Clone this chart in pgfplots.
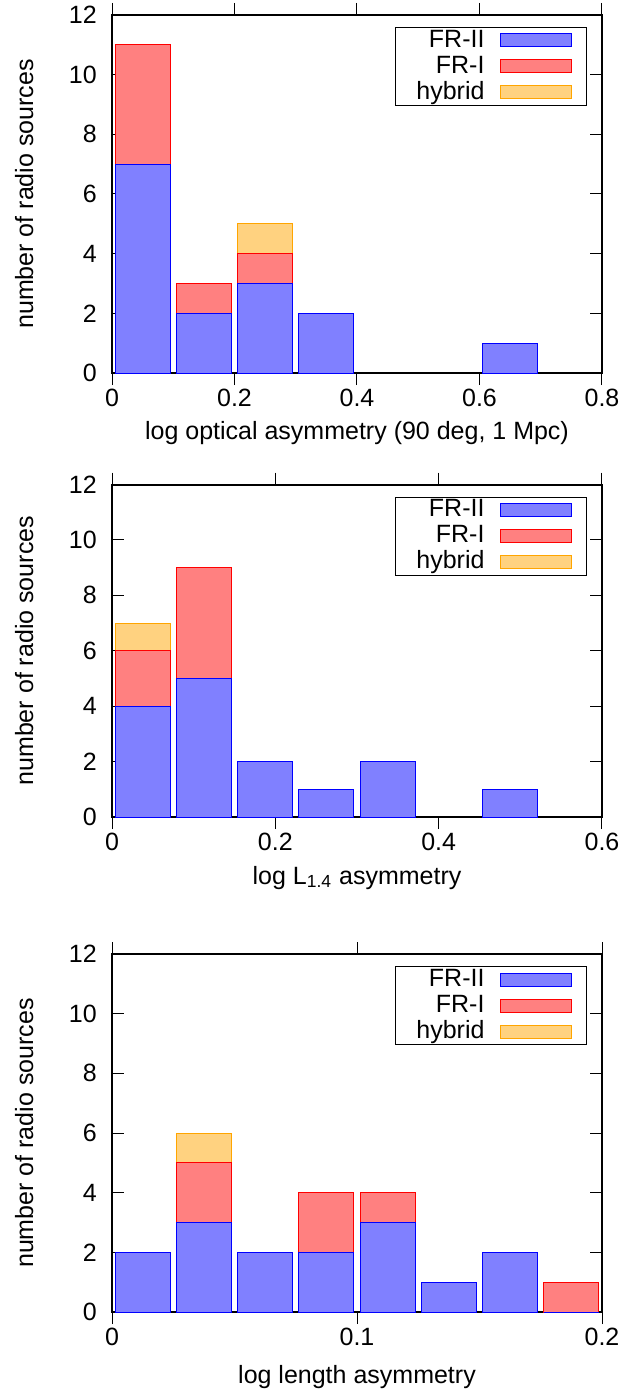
\documentclass[border=0pt]{standalone}
\usepackage{fontspec}
\setmainfont{Liberation Sans}
\usepackage{pgfplots}
\pgfplotsset{compat=1.18}
\usepackage{pgfplotstable}

\definecolor{c2fill}{RGB}{128,128,255}
\definecolor{c1fill}{RGB}{255,128,128}
\definecolor{chfill}{RGB}{255,210,128}
\definecolor{horange}{RGB}{255,165,0}

% x = bin centre, t2 = FR-II, t1 = FR-II+FR-I, th = FR-II+FR-I+hybrid
\pgfplotstableread{
x t2 t1 th
0.05 7 11 11
0.15 2 3 3
0.25 3 4 5
0.35 2 2 2
0.65 1 1 1
}\dataA
\pgfplotstableread{
x t2 t1 th
0.0375 4 6 7
0.1125 5 9 9
0.1875 2 2 2
0.2625 1 1 1
0.3375 2 2 2
0.4875 1 1 1
}\dataB
\pgfplotstableread{
x t2 t1 th
0.0125 2 2 2
0.0375 3 5 6
0.0625 2 2 2
0.0875 2 4 4
0.1125 3 4 4
0.1375 1 1 1
0.1625 2 2 2
0.1875 0 1 1
}\dataC

\pgfplotsset{
  mylegend/.style={legend image code/.code={%
      \draw[##1, line width=0.5pt] (0pt,-3.25pt) rectangle (35.5pt,3.25pt);
      \path[draw=none,fill=none] (-8pt,0pt) -- (43pt,0pt);}},
  hist/.style={
    scale only axis, width=245pt, anchor=north west,
    ymin=0, ymax=12, ytick={0,2,4,6,8,10,12}, xmin=0,
    tick align=inside, major tick length=6pt,
    axis line style={line width=1pt},
    every tick/.append style={black, line width=0.5pt},
    minor tick num=0,
    ylabel={number of radio sources},
    every axis y label/.style={at={(axis description cs:-0.1612,0.5)}, rotate=90, anchor=base},
    yticklabel style={xshift=-3.3pt},
    xticklabel style={yshift=2.2pt, /pgf/number format/fixed},
    /pgf/number format/assume math mode=true,
    reverse legend,
    legend plot pos=right,
    legend style={at={(rel axis cs:1,1)}, anchor=north east, xshift=-7.5pt, yshift=-6pt,
      inner sep=0pt, draw=black, line width=0.5pt, column sep=0pt, row sep=0pt,
      cells={anchor=center},
      nodes={inner sep=0pt, text width=44.5pt, align=right, text height=9.85pt, text depth=3.15pt}},
    ybar,
    every axis plot post/.append style={bar shift=0pt, line width=0.5pt, mylegend},
  }
}

\begin{document}
\fontsize{12.5}{15}\selectfont
\begin{tikzpicture}
\useasboundingbox (0,0) rectangle (321.5pt,-698pt);

\begin{axis}[hist, at={(56pt,-7.5pt)}, height=179pt, xmax=0.8,
  xtick={0,0.2,0.4,0.6,0.8}, bar width=0.09,
  xlabel={log optical asymmetry (90 deg, 1 Mpc)},
  every axis x label/.style={at={(axis description cs:0.5,-0.1844)}, anchor=base}]
\addplot[fill=chfill, draw=horange] table[x=x,y=th]{\dataA}; \addlegendentry{hybrid}
\addplot[fill=c1fill, draw=red] table[x=x,y=t1]{\dataA}; \addlegendentry{FR-I}
\addplot[fill=c2fill, draw=blue] table[x=x,y=t2]{\dataA}; \addlegendentry{FR-II}
\end{axis}

\begin{axis}[hist, at={(56pt,-242.25pt)}, height=166.25pt, xmax=0.6,
  xtick={0,0.2,0.4,0.6}, bar width=0.0675,
  xlabel={log L\textsubscript{1.4} asymmetry},
  every axis x label/.style={at={(axis description cs:0.5,-0.2015)}, anchor=base}]
\addplot[fill=chfill, draw=horange] table[x=x,y=th]{\dataB}; \addlegendentry{hybrid}
\addplot[fill=c1fill, draw=red] table[x=x,y=t1]{\dataB}; \addlegendentry{FR-I}
\addplot[fill=c2fill, draw=blue] table[x=x,y=t2]{\dataB}; \addlegendentry{FR-II}
\end{axis}

\begin{axis}[hist, at={(56pt,-477pt)}, height=179pt, xmax=0.2,
  xtick={0,0.1,0.2}, bar width=0.0225,
  xlabel={log length asymmetry},
  every axis x label/.style={at={(axis description cs:0.5,-0.1983)}, anchor=base}]
\addplot[fill=chfill, draw=horange] table[x=x,y=th]{\dataC}; \addlegendentry{hybrid}
\addplot[fill=c1fill, draw=red] table[x=x,y=t1]{\dataC}; \addlegendentry{FR-I}
\addplot[fill=c2fill, draw=blue] table[x=x,y=t2]{\dataC}; \addlegendentry{FR-II}
\end{axis}
\end{tikzpicture}
\end{document}
